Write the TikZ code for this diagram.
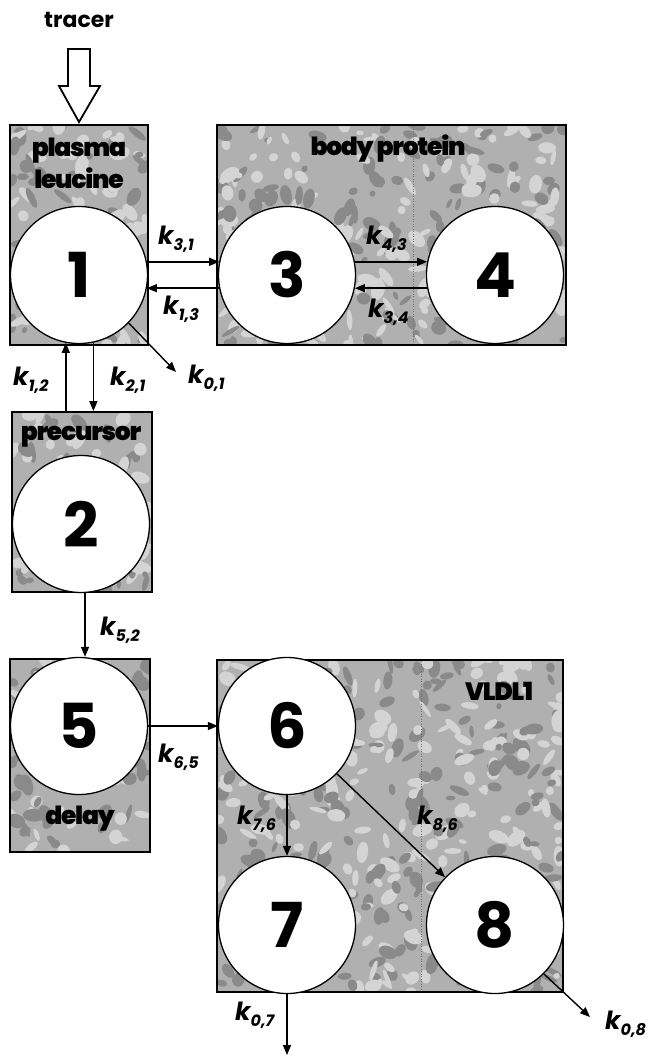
\documentclass[tikz,border=0pt]{standalone}
\usepackage{fontspec}
\usetikzlibrary{arrows.meta,calc}
\newfontfamily\pf{Poppins}
\newfontfamily\pxb{Poppins Black}[LetterSpace=-5]

% rate constant label: italic k with lowered subscript
\newcommand\kk[1]{{\pf\bfseries\itshape\fontsize{25}{25}\selectfont k\raisebox{-6pt}{\fontsize{16}{16}\selectfont #1}}}

% mottled grey halftone fill of a rectangle; blob count follows the area
\newcommand\mottlebox[4]{%
  \begin{scope}
    \clip (#1,#2) rectangle (#3,#4);
    \fill[black!31] (#1,#2) rectangle (#3,#4);
    \pgfmathtruncatemacro\nblob{((#3-#1)/26)*((#4-#2)/10)}%
    \foreach \i in {1,...,\nblob}{%
      \pgfmathsetmacro\mx{#1+rnd*(#3-#1)}%
      \pgfmathsetmacro\my{#2+rnd*(#4-#2)}%
      \pgfmathsetmacro\ma{3+rnd*8}%
      \pgfmathsetmacro\mb{2+rnd*5}%
      \pgfmathsetmacro\mr{rnd*180}%
      \pgfmathsetmacro\ms{rnd}%
      \ifdim\ms pt<0.5pt
        \fill[black!46, rotate around={\mr:(\mx,\my)}] (\mx,\my) ellipse [x radius=\ma, y radius=\mb];
      \else
        \fill[black!17, rotate around={\mr:(\mx,\my)}] (\mx,\my) ellipse [x radius=\ma, y radius=\mb];
      \fi
    }
  \end{scope}}

\begin{document}
\begin{tikzpicture}[x=1pt,y=-1pt,
  pool/.style={circle, draw, line width=1.3pt, fill=white, minimum size=137pt,
    inner sep=0pt, font=\pf\bfseries\fontsize{62}{62}\selectfont},
  compbox/.style={draw, line width=1.8pt, inner sep=0pt},
  boxlabel/.style={font=\pxb\fontsize{25}{25}\selectfont, inner sep=0pt},
  flow/.style={line width=1.4pt, -{Triangle[length=10pt,width=8pt]}},
  klab/.style={inner sep=0pt, anchor=north west},
  seam/.style={black!55, line width=0.5pt, dotted}]
\useasboundingbox (0,0) rectangle (648,1057);
\pgfmathsetseed{4711}

% shaded compartments
\mottlebox{10}{125}{148}{345}
\mottlebox{217}{125}{566}{345}
\mottlebox{12}{412}{152}{592}
\mottlebox{10}{659}{150}{852}
\mottlebox{217}{660}{563}{992}
\draw[seam] (413,126) -- (413,344);
\draw[seam] (421,661) -- (421,991);

\node[compbox, minimum width=138pt, minimum height=220pt] (b1) at (79,235) {};
\node[compbox, minimum width=349pt, minimum height=220pt] (b3) at (391.5,235) {};
\node[compbox, minimum width=140pt, minimum height=180pt] (b2) at (82,502) {};
\node[compbox, minimum width=140pt, minimum height=193pt] (b5) at (80,755.5) {};
\node[compbox, minimum width=346pt, minimum height=332pt] (b6) at (390,826) {};

% compartment names
\node[boxlabel, font=\pf\bfseries\fontsize{22}{22}\selectfont] (tr) at (79,20) {tracer};
\node[boxlabel] (pl) at (79,151) {plasma};
\node[boxlabel] (le) at (79,178) {leucine};
\node[boxlabel] (bp) at (388,149) {body protein};
\node[boxlabel] (pr) at (81,437) {precursor};
\node[boxlabel] (de) at (80,819) {delay};
\node[boxlabel] (vl) at (499,691) {VLDL1};

% tracer input
\draw[line width=1.8pt, fill=white, line join=miter]
  (68,49) -- (90,49) -- (90,86) -- (100,86) -- (79,122) -- (59,86) -- (68,86) -- cycle;

% pools
\node[pool] (c1) at (79,275) {1};
\node[pool] (c3) at (287,275) {3};
\node[pool] (c4) at (495,275) {4};
\node[pool] (c2) at (81,524) {2};
\node[pool] (c5) at (79,726) {5};
\node[pool] (c6) at (287,726) {6};
\node[pool] (c7) at (287,925) {7};
\node[pool] (c8) at (495,925) {8};

% exchanges
\draw[flow] (c1.11) -- (c3.169);
\draw[flow] (c3.191) -- (c1.-11);
\draw[flow] (c3.11) -- (c4.169);
\draw[flow] (c4.191) -- (c3.-11);
\draw[flow] (c1.-101.7 |- b2.north) -- (c1.-101.7);
\draw[flow] (c1.-78.3) -- (c1.-78.3 |- b2.north);
\draw[flow] (c2.south -| 85,0) -- (85,0 |- c5.north);
\draw[flow] (c5.east) -- (c6.west);
\draw[flow] (c6.south) -- (c7.north);
\draw[flow] (c6) -- (c8);

% losses
\coordinate (o1) at (176,372);
\coordinate (o7) at (287,1055);
\coordinate (o8) at (590,1017);
\draw[flow] (c1.-44) -- (o1);
\draw[flow] (c7.south) -- (o7);
\draw[flow] (c8.-45) -- (o8);

% rate constants
\node[klab] (k31) at (158,226) {\kk{3,1}};
\node[klab] (k13) at (163,296) {\kk{1,3}};
\node[klab] (k43) at (366,226) {\kk{4,3}};
\node[klab] (k34) at (368,299) {\kk{3,4}};
\node[klab] (k12) at (13,367) {\kk{1,2}};
\node[klab] (k21) at (110,367) {\kk{2,1}};
\node[klab] (k01) at (188,365) {\kk{0,1}};
\node[klab] (k52) at (100,617) {\kk{5,2}};
\node[klab] (k65) at (158,744) {\kk{6,5}};
\node[klab] (k76) at (237,806) {\kk{7,6}};
\node[klab] (k86) at (417,806) {\kk{8,6}};
\node[klab] (k07) at (235,1002) {\kk{0,7}};
\node[klab] (k08) at (605,1011) {\kk{0,8}};
\end{tikzpicture}
\end{document}
